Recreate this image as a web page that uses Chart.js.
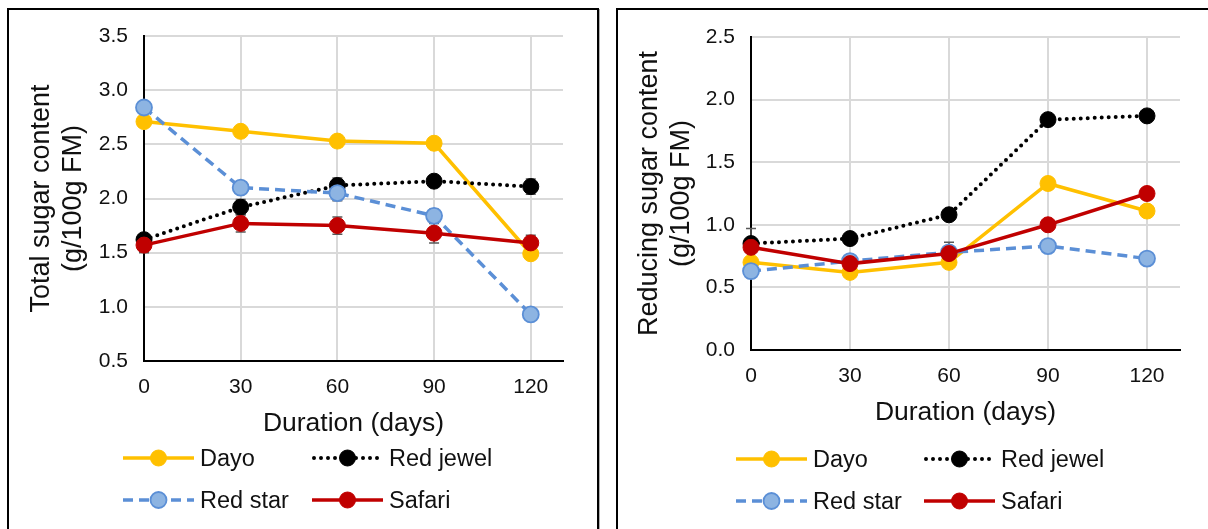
<!DOCTYPE html>
<html>
<head>
<meta charset="utf-8">
<script src="https://cdn.jsdelivr.net/npm/chart.js@4.4.0/dist/chart.umd.min.js"></script>
<style>
  html, body { margin: 0; padding: 0; background: #fff; }
  body { width: 1208px; height: 529px; position: relative; overflow: hidden; font-family: "Liberation Sans", Arial, sans-serif; }
  .panel { position: absolute; }
  .frame { position: absolute; border: 2px solid #000; box-shadow: 1px 1px 0 #b0b0b0; }
  .legend-item { position: absolute; height: 30px; display: flex; align-items: center; font-size: 23.5px; color: #111; white-space: nowrap; }
  .legend-item svg { display: block; margin-right: 6px; }
</style>
</head>
<body>
<div class="frame" style="left:7px; top:8px; width:588px; height:540px;"></div>
<div class="frame" style="left:616px; top:8px; width:620px; height:540px;"></div>
<div class="panel" style="left:0; top:0; width:600px; height:529px;"><canvas id="c1" width="600" height="529"></canvas></div>
<div class="panel" style="left:600px; top:0; width:608px; height:529px;"><canvas id="c2" width="608" height="529"></canvas></div>
<div id="legends"></div>
<script>
// ---- data ----
const days = [0, 30, 60, 90, 120];
const seriesNames = ["Dayo", "Red jewel", "Red star", "Safari"];

// Total sugar content (g/100g FM)
const totalDayo     = [2.71, 2.62, 2.53, 2.51, 1.49];
const totalRedJewel = [1.62, 1.92, 2.12, 2.16, 2.11];
const totalRedStar  = [2.84, 2.10, 2.05, 1.84, 0.93];
const totalSafari   = [1.57, 1.77, 1.75, 1.68, 1.59];
const totalErrDayo     = [0.03, 0.04, 0.05, 0.03, 0.03];
const totalErrRedJewel = [0.03, 0.07, 0.07, 0.05, 0.07];
const totalErrRedStar  = [0.03, 0.04, 0.07, 0.06, 0.03];
const totalErrSafari   = [0.07, 0.08, 0.08, 0.09, 0.07];

// Reducing sugar content (g/100g FM)
const redDayo     = [0.70, 0.62, 0.70, 1.33, 1.11];
const redRedJewel = [0.85, 0.89, 1.08, 1.84, 1.87];
const redRedStar  = [0.63, 0.71, 0.78, 0.83, 0.73];
const redSafari   = [0.82, 0.69, 0.77, 1.00, 1.25];
const redErrDayo     = [0.03, 0.03, 0.03, 0.03, 0.03];
const redErrRedJewel = [0.12, 0.03, 0.03, 0.03, 0.03];
const redErrRedStar  = [0.05, 0.04, 0.08, 0.03, 0.03];
const redErrSafari   = [0.03, 0.03, 0.03, 0.03, 0.03];

const xTicks = [0, 30, 60, 90, 120];
const totalYTicks = [0.5, 1.0, 1.5, 2.0, 2.5, 3.0, 3.5];
const reducingYTicks = [0.0, 0.5, 1.0, 1.5, 2.0, 2.5];

// ---- styles ----
const FONT = '"Liberation Sans", Arial, sans-serif';
Chart.defaults.font.family = FONT;
Chart.defaults.color = '#111';

const styles = [
  { line: '#FFC000', fill: '#FFC000', border: '#FFC000', dash: [], cap: 'butt', width: 3.5, pbw: 1 },
  { line: '#000000', fill: '#000000', border: '#000000', dash: [0, 7], cap: 'round', width: 4, pbw: 1 },
  { line: '#5B8FD6', fill: '#8DB4E2', border: '#5B8FD6', dash: [10, 6], cap: 'butt', width: 3.5, pbw: 1.8 },
  { line: '#C00000', fill: '#C00000', border: '#C00000', dash: [], cap: 'butt', width: 3.5, pbw: 1 }
];

function makeDatasets(values) {
  return values.map((vals, i) => ({
    label: seriesNames[i],
    data: days.map((d, j) => ({ x: d, y: vals[j] })),
    borderColor: styles[i].line,
    borderWidth: styles[i].width,
    borderDash: styles[i].dash,
    borderCapStyle: styles[i].cap,
    backgroundColor: styles[i].fill,
    pointBackgroundColor: styles[i].fill,
    pointBorderColor: styles[i].border,
    pointBorderWidth: styles[i].pbw,
    pointRadius: 8,
    pointHoverRadius: 8,
    tension: 0,
    fill: false,
    clip: false,
    order: 4 - i
  }));
}

const errorBarPlugin = {
  id: 'errorBars',
  beforeDatasetsDraw(chart, args, opts) {
    const ctx = chart.ctx;
    const ys = chart.scales.y;
    ctx.save();
    ctx.strokeStyle = '#595959';
    ctx.lineWidth = 1.5;
    chart.data.datasets.forEach((ds, di) => {
      const meta = chart.getDatasetMeta(di);
      const errs = opts.errors[di];
      meta.data.forEach((pt, j) => {
        const v = ds.data[j].y, e = errs[j];
        const y1 = ys.getPixelForValue(v - e), y2 = ys.getPixelForValue(v + e);
        const x = pt.x;
        ctx.beginPath();
        ctx.moveTo(x, y1); ctx.lineTo(x, y2);
        ctx.moveTo(x - 5, y1); ctx.lineTo(x + 5, y1);
        ctx.moveTo(x - 5, y2); ctx.lineTo(x + 5, y2);
        ctx.stroke();
      });
    });
    ctx.restore();
  }
};

function makeChart(id, values, errors, yTicks, cfg) {
  return new Chart(document.getElementById(id), {
    type: 'line',
    data: { datasets: makeDatasets(values) },
    plugins: [errorBarPlugin],
    options: {
      responsive: false,
      animation: false,
      devicePixelRatio: 1,
      layout: { padding: { left: 0, right: cfg.padRight, top: cfg.padTop, bottom: 0 } },
      plugins: {
        legend: { display: false },
        tooltip: { enabled: false },
        errorBars: { errors: errors }
      },
      scales: {
        x: {
          type: 'linear',
          min: 0, max: 130,
          afterBuildTicks: s => { s.ticks = xTicks.map(v => ({ value: v })); },
          afterFit: s => { s.height = cfg.xHeight; },
          grid: { color: '#D9D9D9', lineWidth: 2, drawTicks: false },
          border: { display: true, color: '#000', width: 2 },
          ticks: { font: { size: 21 }, color: '#111', padding: 14, maxRotation: 0, autoSkip: false },
          title: { display: true, text: 'Duration (days)', font: { size: 26.5 }, color: '#111', padding: { top: 0, bottom: cfg.xTitlePad } }
        },
        y: {
          type: 'linear',
          min: yTicks[0], max: yTicks[yTicks.length - 1],
          afterBuildTicks: s => { s.ticks = yTicks.map(v => ({ value: v })); },
          afterFit: s => { s.width = cfg.yWidth; },
          grid: { color: '#D9D9D9', lineWidth: 2, drawTicks: false },
          border: { display: true, color: '#000', width: 2 },
          ticks: { font: { size: 21 }, color: '#111', padding: 16, callback: v => Number(v).toFixed(1) },
          title: { display: true, text: cfg.yTitle, font: { size: 27, lineHeight: 1.18 }, color: '#111', padding: { top: cfg.yTitlePad, bottom: 0 } }
        }
      }
    }
  });
}

makeChart('c1',
  [totalDayo, totalRedJewel, totalRedStar, totalSafari],
  [totalErrDayo, totalErrRedJewel, totalErrRedStar, totalErrSafari],
  totalYTicks,
  { padRight: 37, padTop: 36, xHeight: 168, yWidth: 144, xTitlePad: 89, yTitlePad: 26,
    yTitle: ['Total sugar content', '(g/100g FM)'] });

makeChart('c2',
  [redDayo, redRedJewel, redRedStar, redSafari],
  [redErrDayo, redErrRedJewel, redErrRedStar, redErrSafari],
  reducingYTicks,
  { padRight: 28, padTop: 37, xHeight: 179, yWidth: 151, xTitlePad: 100, yTitlePad: 34,
    yTitle: ['Reducing sugar content', '(g/100g FM)'] });

// ---- legends (HTML) ----
const legendPos = [
  { cols: [123, 312], rows: [458, 500] },
  { cols: [736, 924], rows: [459, 501] }
];
const legendHost = document.getElementById('legends');
legendPos.forEach(p => {
  seriesNames.forEach((name, i) => {
    const st = styles[i];
    const col = i % 2, row = Math.floor(i / 2);
    const div = document.createElement('div');
    div.className = 'legend-item';
    div.style.left = p.cols[col] + 'px';
    div.style.top = (p.rows[row] - 15) + 'px';
    const dash = st.dash.length ? `stroke-dasharray="${st.dash.join(' ')}"` : '';
    div.innerHTML =
      `<svg width="71" height="30" viewBox="0 0 71 30">` +
      `<line x1="${st.cap === 'round' ? 2 : 0}" y1="15" x2="71" y2="15" stroke="${st.line}" stroke-width="${st.width}" stroke-linecap="${st.cap}" ${dash}/>` +
      `<circle cx="35.5" cy="15" r="8" fill="${st.fill}" stroke="${st.border}" stroke-width="${st.pbw}"/></svg>` +
      `<span>${name}</span>`;
    legendHost.appendChild(div);
  });
});
</script>
</body>
</html>
